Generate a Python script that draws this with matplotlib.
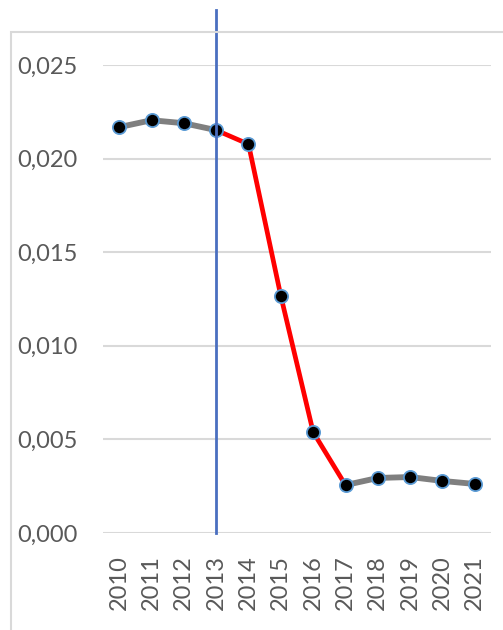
import numpy as np
import matplotlib.pyplot as plt
from matplotlib.patches import Rectangle

years = ['2010', '2011', '2012', '2013', '2014', '2015', '2016', '2017', '2018', '2019', '2020', '2021']
values = [0.02168, 0.02205, 0.02189, 0.02152, 0.02077, 0.01266, 0.00539, 0.00256, 0.00294, 0.00299, 0.00278, 0.00262]
yticks = [0.0, 0.005, 0.010, 0.015, 0.020, 0.025]
ytick_labels = ['0,000', '0,005', '0,010', '0,015', '0,020', '0,025']
marker_year = '2013'
red_span = ('2013', '2017')

plt.rcParams['font.family'] = ['Lato', 'DejaVu Sans']

fig = plt.figure(figsize=(5.03, 6.3), dpi=100)
ax = fig.add_axes([103 / 503, 1 - 533 / 630, 388 / 503, 468 / 630])

x = np.arange(len(years))
vals = np.array(values)
i0, i1 = years.index(red_span[0]), years.index(red_span[1])

ax.plot(x[:i0 + 1], vals[:i0 + 1], color='#7f7f7f', lw=4.2, zorder=3)
ax.plot(x[i1:], vals[i1:], color='#7f7f7f', lw=4.2, zorder=3)
ax.plot(x[i0:i1 + 1], vals[i0:i1 + 1], color='#ff0000', lw=3.4, zorder=3)
ax.plot(x, vals, ls='none', marker='o', ms=9.5, mfc='black', mec='#5b9bd5', mew=1.3, zorder=5)

xv = years.index(marker_year)
ax.axvline(xv, ymin=0, ymax=(533 - 10) / 468, color='#4a6fc0', lw=2, clip_on=False, zorder=6)

ax.set_xlim(-0.5, len(years) - 0.5)
ax.set_ylim(0, 0.025)
ax.set_yticks(yticks)
ax.set_yticklabels(ytick_labels)
ax.set_xticks(x)
ax.set_xticklabels(years, rotation=90)
ax.tick_params(axis='both', length=0, labelsize=17, colors='#595959')
ax.tick_params(axis='y', pad=18)
ax.tick_params(axis='x', pad=16)
ax.grid(axis='y', color='#d9d9d9', lw=1.5)
ax.set_axisbelow(True)
for s in ax.spines.values():
    s.set_visible(False)

fig.patches.append(Rectangle((11 / 503, -0.1), 1.2, 1 - 32 / 630 + 0.1, transform=fig.transFigure,
                             fill=False, edgecolor='#d9d9d9', lw=1.5, zorder=0))

fig.savefig('out.png', dpi=100)
